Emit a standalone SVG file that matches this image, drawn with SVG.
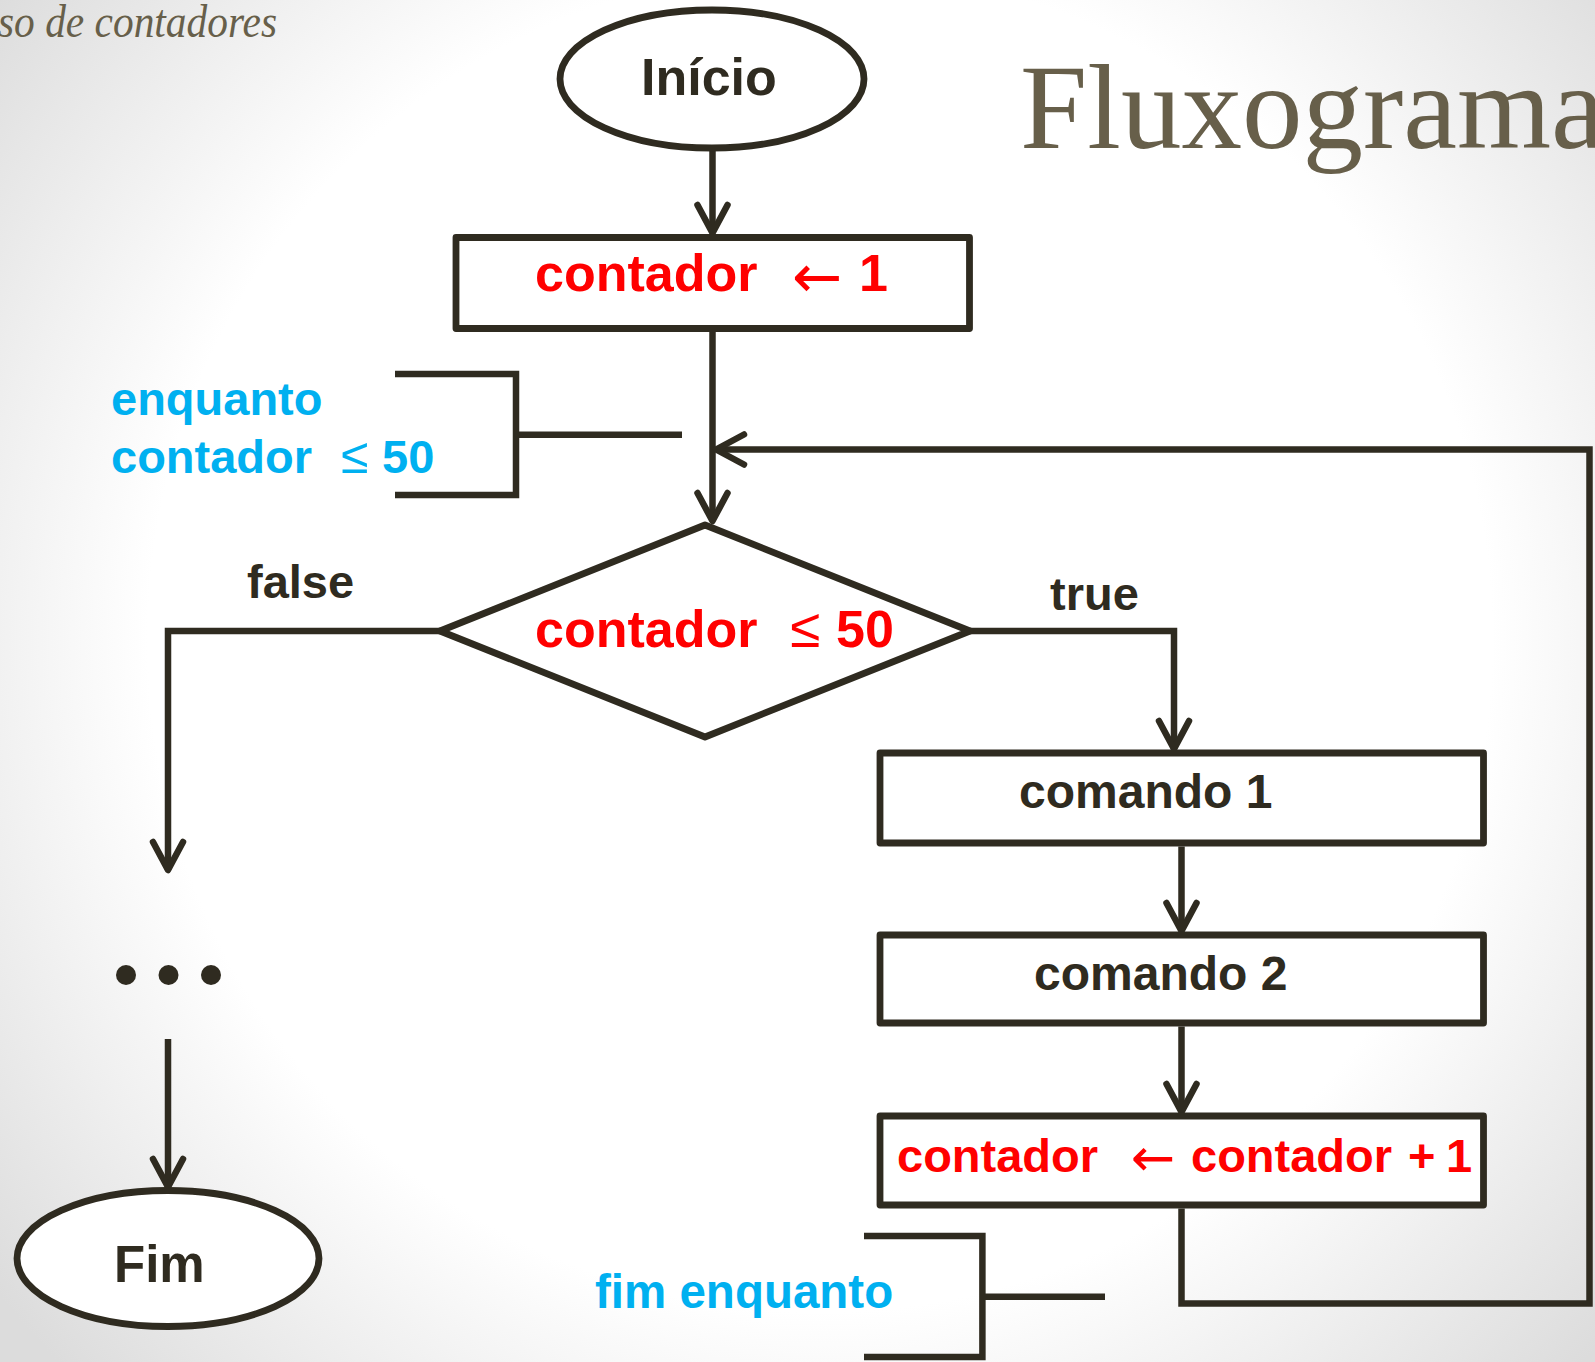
<svg xmlns="http://www.w3.org/2000/svg" width="1595" height="1362" viewBox="0 0 1595 1362">
  <defs>
    <radialGradient id="bg" cx="820" cy="640" r="1050" gradientUnits="userSpaceOnUse">
      <stop offset="0" stop-color="#ffffff"/>
      <stop offset="0.64" stop-color="#ffffff"/>
      <stop offset="1" stop-color="#dcdcdc"/>
    </radialGradient>
    <marker id="arrow" markerUnits="userSpaceOnUse" orient="auto" markerWidth="40" markerHeight="40" refX="0" refY="0" viewBox="-34 -20 40 40" overflow="visible">
      <path d="M-28,-15 L0,0 L-28,15" fill="none" stroke="#2f2b20" stroke-width="6.5" stroke-linecap="round" stroke-linejoin="round"/>
    </marker>
    <style>
      .shape { fill: #ffffff; stroke: #2f2b20; stroke-width: 6.8; stroke-linejoin: round; }
      .wire { fill: none; stroke: #2f2b20; stroke-width: 6.5; stroke-linejoin: miter; }
      .flow { marker-end: url(#arrow); }
      .t { font-family: "Liberation Sans", Arial, "DejaVu Sans", sans-serif; font-weight: bold; }
      .sym { font-family: "Liberation Sans", Arial, "DejaVu Sans", sans-serif; font-weight: normal; }
      .arr { font-family: "DejaVu Sans", "Liberation Sans", sans-serif; font-weight: normal; }
      .dark { fill: #2f2b20; }
      .red { fill: #ff0000; }
      .cyan { fill: #00b0f0; }
      .title { font-family: "Liberation Serif", "Times New Roman", serif; fill: #675f4a; }
    </style>
  </defs>

  <rect x="0" y="0" width="1595" height="1362" fill="url(#bg)"/>

  <!-- slide headings -->
  <text class="title" x="-2" y="37" font-size="47" font-style="italic" textLength="279" lengthAdjust="spacingAndGlyphs">so de contadores</text>
  <text class="title" x="1020" y="148" font-size="121">Fluxograma</text>

  <!-- connectors -->
  <g id="connectors">
    <path class="wire flow" d="M712.5,148 V233"/>
    <path class="wire flow" d="M712.5,332 V521"/>
    <path class="wire flow" d="M970,631 H1174 V749"/>
    <path class="wire flow" d="M440,631 H168 V870"/>
    <path class="wire flow" d="M168,1039 V1187"/>
    <path class="wire flow" d="M1181.5,846.5 V931"/>
    <path class="wire flow" d="M1181.5,1026.5 V1112"/>
    <path class="wire flow" d="M1181.5,1208.5 V1303.5 H1589.5 V449.5 H716"/>
    <!-- loop brackets -->
    <path class="wire" d="M395,374 H516 V495 H395 M516,434.7 H682"/>
    <path class="wire" d="M864,1236 H982.4 V1357 H864 M982.4,1296.7 H1105"/>
  </g>

  <!-- loop labels -->
  <g id="label-enquanto">
    <text class="t cyan" x="111" y="415" font-size="47">enquanto</text>
    <text class="t cyan" x="111" y="473" font-size="47">contador</text>
    <text class="sym cyan" x="341" y="473" font-size="50">≤</text>
    <text class="t cyan" x="382" y="473" font-size="47">50</text>
  </g>
  <g id="label-fim-enquanto">
    <text class="t cyan" x="595" y="1308" font-size="47.5">fim enquanto</text>
  </g>

  <!-- branch labels -->
  <text class="t dark" x="247" y="598" font-size="47">false</text>
  <text class="t dark" x="1050" y="610" font-size="47">true</text>

  <!-- nodes -->
  <g id="node-inicio">
    <ellipse class="shape" cx="712" cy="79" rx="152" ry="69"/>
    <text class="t dark" x="641" y="95" font-size="52">Início</text>
  </g>

  <g id="node-init">
    <rect class="shape" x="456" y="237.5" width="513.5" height="91"/>
    <text class="t red" x="535" y="291" font-size="52">contador</text>
    <text class="arr red" x="792" y="297" font-size="60">←</text>
    <text class="t red" x="859" y="291" font-size="52">1</text>
  </g>

  <g id="node-decision">
    <polygon class="shape" points="705,525 970,631 705,737 440,631"/>
    <text class="t red" x="535" y="647" font-size="52">contador</text>
    <text class="sym red" x="790" y="647" font-size="55">≤</text>
    <text class="t red" x="836" y="647" font-size="52">50</text>
  </g>

  <g id="node-comando1">
    <rect class="shape" x="880" y="753" width="603.5" height="90"/>
    <text class="t dark" x="1019" y="808" font-size="48">comando 1</text>
  </g>

  <g id="node-comando2">
    <rect class="shape" x="880" y="935" width="603.5" height="88"/>
    <text class="t dark" x="1034" y="990" font-size="48">comando 2</text>
  </g>

  <g id="node-increment">
    <rect class="shape" x="880" y="1116" width="603.5" height="89"/>
    <text class="t red" x="897" y="1172" font-size="47">contador</text>
    <text class="arr red" x="1131" y="1176" font-size="53">←</text>
    <text class="t red" x="1191" y="1172" font-size="47">contador</text>
    <text class="t red" x="1408" y="1172" font-size="47">+</text>
    <text class="t red" x="1446" y="1172" font-size="47">1</text>
  </g>

  <g id="node-ellipsis">
    <circle class="dark" cx="126" cy="975" r="10"/>
    <circle class="dark" cx="168.5" cy="975" r="10"/>
    <circle class="dark" cx="211" cy="975" r="10"/>
  </g>

  <g id="node-fim">
    <ellipse class="shape" cx="168" cy="1258.5" rx="151" ry="68"/>
    <text class="t dark" x="114" y="1282" font-size="51">Fim</text>
  </g>
</svg>
